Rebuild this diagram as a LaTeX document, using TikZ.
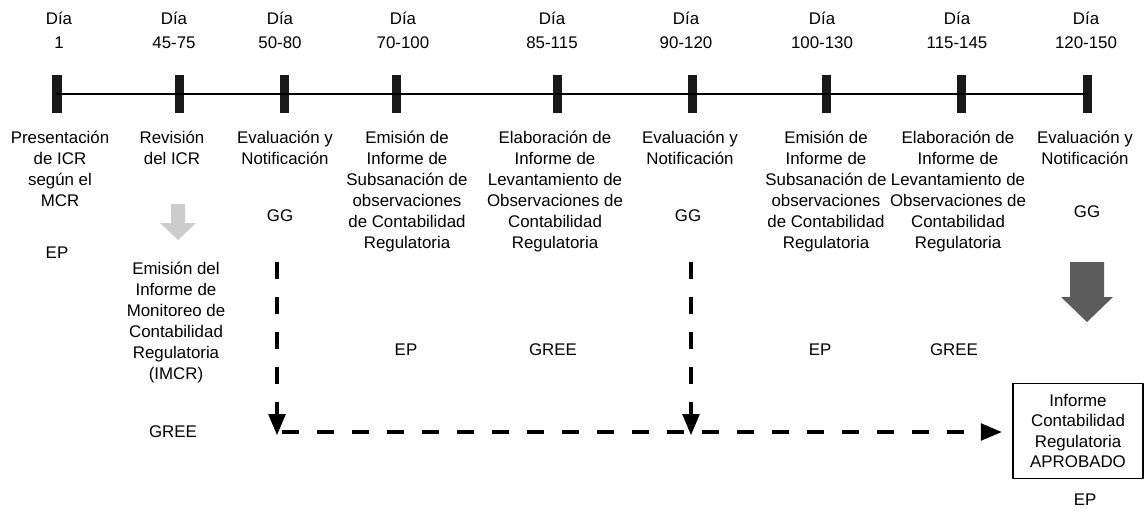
\documentclass[tikz,border=0pt]{standalone}
\usepackage{fontspec}
\setmainfont{Liberation Sans}
\usetikzlibrary{arrows}
\definecolor{qqbarra}{rgb}{0.1,0.1,0.1}
\definecolor{qqflecha}{rgb}{0.36,0.36,0.36}
\definecolor{qqclara}{rgb}{0.8,0.8,0.8}

\begin{document}
\begin{tikzpicture}[line cap=round,line join=round,>=triangle 45,x=0.025cm,y=-0.025cm,
  hito/.style={fill=qqbarra,minimum width=0.225cm,minimum height=0.95cm,inner sep=0pt},
  dia/.style={anchor=north,align=center,font=\fontsize{12}{17}\selectfont,inner sep=0pt},
  tarea/.style={anchor=north,align=center,font=\fontsize{12}{14.9}\selectfont,inner sep=0pt},
  resp/.style={font=\fontsize{12}{14.9}\selectfont,inner sep=0pt},
  guion/.style={line width=2.5pt,line cap=butt,dash pattern=on 0.425cm off 0.45cm}]
\useasboundingbox (0,0) rectangle (1145,512);
% eje de tiempo
\node[hito] (t1) at (57,94) {};
\node[hito] (t2) at (179,94) {};
\node[hito] (t3) at (284,94) {};
\node[hito] (t4) at (396,94) {};
\node[hito] (t5) at (557,94) {};
\node[hito] (t6) at (692,94) {};
\node[hito] (t7) at (826,94) {};
\node[hito] (t8) at (961,94) {};
\node[hito] (t9) at (1087,94) {};
\draw [line width=2pt] (t1.center) -- (t9.center);
% dias
\node[dia] (dia1) at (59,12) {Día\\1};
\node[dia] (dia2) at (174,12) {Día\\45-75};
\node[dia] (dia3) at (280,12) {Día\\50-80};
\node[dia] (dia4) at (403,12) {Día\\70-100};
\node[dia] (dia5) at (552,12) {Día\\85-115};
\node[dia] (dia6) at (686,12) {Día\\90-120};
\node[dia] (dia7) at (822,12) {Día\\100-130};
\node[dia] (dia8) at (957,12) {Día\\115-145};
\node[dia] (dia9) at (1086,12) {Día\\120-150};
% actividades
\node[tarea] (a1) at (60,131) {Presentación\\de ICR\\según el\\MCR};
\node[tarea] (a2) at (172,131) {Revisión\\del ICR};
\node[tarea] (a3) at (285,131) {Evaluación y\\Notificación};
\node[tarea] (a4) at (407,131) {Emisión de\\Informe de\\Subsanación de\\observaciones\\de Contabilidad\\Regulatoria};
\node[tarea] (a5) at (555,131) {Elaboración de\\Informe de\\Levantamiento de\\Observaciones de\\Contabilidad\\Regulatoria};
\node[tarea] (a6) at (690,131) {Evaluación y\\Notificación};
\node[tarea] (a7) at (826,131) {Emisión de\\Informe de\\Subsanación de\\observaciones\\de Contabilidad\\Regulatoria};
\node[tarea] (a8) at (958,131) {Elaboración de\\Informe de\\Levantamiento de\\Observaciones de\\Contabilidad\\Regulatoria};
\node[tarea] (a9) at (1085,131) {Evaluación y\\Notificación};
% responsables
\node[resp] (ep1) at (57,253) {EP};
\node[resp] (gg3) at (280,216) {GG};
\node[resp] (ep4) at (406,350) {EP};
\node[resp] (gree5) at (553,350) {GREE};
\node[resp] (gg6) at (688,216) {GG};
\node[resp] (ep7) at (820,350) {EP};
\node[resp] (gree8) at (954,350) {GREE};
\node[resp] (gg9) at (1087,212) {GG};
\node[tarea] (imcr) at (176,262) {Emisión del\\Informe de\\Monitoreo de\\Contabilidad\\Regulatoria\\(IMCR)};
\node[resp] (gree2) at (173,432) {GREE};
\fill [color=qqclara] (171,204) -- (185,204) -- (185,223) -- (196,223) -- (178,240) -- (160,223) -- (171,223) -- cycle;
\fill [color=qqflecha] (1070,262) -- (1104,262) -- (1104,297) -- (1113,297) -- (1087,322) -- (1061,297) -- (1070,297) -- cycle;
% informe final
\node[draw,line width=0.8pt,align=center,minimum width=3.25cm,minimum height=2.375cm,font=\fontsize{12}{14.6}\selectfont] (fin) at (1078,431) {Informe\\Contabilidad\\Regulatoria\\APROBADO};
\node[resp] (ep9) at (1085,500) {EP};
% flujo
\coordinate (v3a) at (277,262);
\coordinate (v3b) at (277,435);
\coordinate (v6a) at (691,262);
\coordinate (v6b) at (691,435);
\coordinate (h3) at (282,432);
\draw [guion,->] (v3a) -- (v3b);
\draw [guion,->] (v6a) -- (v6b);
\draw [guion,->,shorten >=0.27cm] (h3) -- (h3 -| fin.west);
\end{tikzpicture}
\end{document}
